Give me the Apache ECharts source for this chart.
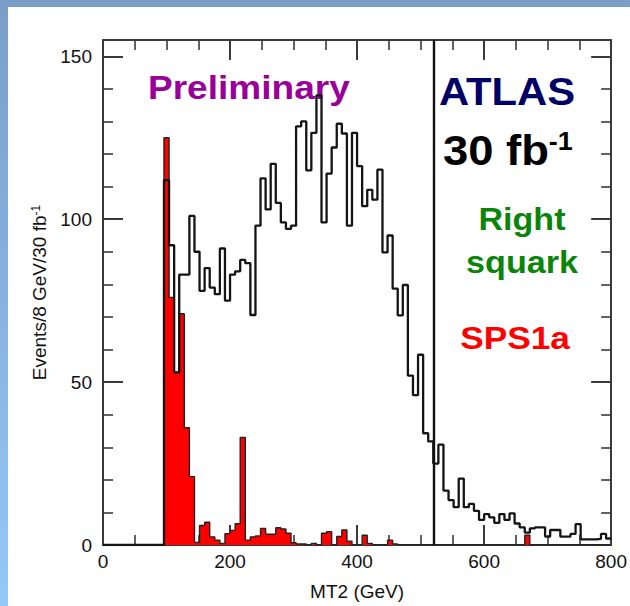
<!DOCTYPE html>
<html>
<head>
<meta charset="utf-8">
<script src="https://cdn.jsdelivr.net/npm/echarts@6/dist/echarts.min.js"></script>
<style>
html, body { margin: 0; padding: 0; width: 630px; height: 606px; overflow: hidden; }
body { position: relative; background: linear-gradient(to bottom, #7a9ec8 0%, #87b3df 50%, #95c8f6 100%); }
#panel { position: absolute; left: 8px; top: 7px; right: 0; bottom: 0; background: #fff; }
#chart { position: absolute; left: 0; top: 0; width: 630px; height: 606px; }
</style>
</head>
<body>
<div id="panel"></div>
<div id="chart"></div>
<script>
// MT2 histograms, 8 GeV bins from 0 to 800
var binWidth = 8;
var mt2Min = 0;
var mt2Max = 800;
var yMax = 155;
var cutValue = 520;
var xTickStep = 200;
var yLabelTicks = [0, 50, 100, 150];
var yMinorTicks = [10, 20, 30, 40, 60, 70, 80, 90, 110, 120, 130, 140];

// black outline : right squark
var squarkCounts = [
	0, 0, 0, 0, 0, 0, 0, 0, 0, 0,
	0, 0, 112, 92, 53, 83, 83, 101, 90, 78,
	85, 79, 77, 91, 75, 83, 84, 87.5, 86.5, 70.6,
	98, 112.5, 103, 117, 105, 99, 97, 98, 128.5, 130,
	115, 126.5, 138, 99, 114, 122, 129.3, 126.3, 98, 126.5,
	116.3, 104, 109, 106, 115.2, 89.8, 95, 78.7, 70.5, 79.8,
	52, 46, 58.4, 34.3, 31.8, 25, 30.8, 16.7, 13.8, 11.6,
	20.4, 11.6, 12.6, 10.5, 7.7, 9.5, 8.5, 6.8, 9.5, 7.7,
	9.7, 6.6, 5.4, 3.8, 5.1, 5.4, 5.4, 2.6, 4.6, 4.6,
	2.6, 2.6, 3.4, 6.4, 1.7, 1.7, 1.7, 1.9, 3.4, 2
];
// red filled : SPS1a
var sps1aCounts = [
	0, 0, 0, 0, 0, 0, 0, 0, 0, 0,
	0, 0, 125, 76, 53, 71, 36, 21, 0.8, 6,
	7, 2.5, 1.5, 0.5, 3.5, 4.5, 6.5, 33, 1.5, 2.5,
	2.8, 5.1, 3.3, 3.3, 5.3, 4.9, 3.6, 0.7, 0.3, 0.3,
	0, 0.5, 0, 3.6, 4.1, 0, 2.6, 4.6, 1.2, 0,
	0, 3, 0.5, 0, 0, 0, 1.5, 0.3, 0, 0,
	0, 0, 0, 0, 0, 0, 0, 0, 0, 0,
	0, 0, 0, 0, 0, 0, 0, 0, 0, 0,
	0, 0, 0, 3, 0, 0, 0, 0, 0, 0,
	0, 0, 0, 0, 0, 0, 0, 0, 0, 0
];

var frameColor = '#3a3a3a';
var fontName = '"Liberation Sans", Arial, sans-serif';
var axisFont = 19;

drawChart();

function toSteps(counts) {
	var pts = [];
	for (var i = 0; i < counts.length; i++) {
		pts.push([mt2Min + i * binWidth, counts[i]]);
	}
	pts.push([mt2Min + counts.length * binWidth, counts[counts.length - 1]]);
	return pts;
}

function xAxisDef(pos) {
	return {
		type : 'value',
		position : pos,
		min : mt2Min,
		max : mt2Max,
		interval : xTickStep,
		axisLine : { show : true, onZero : false, lineStyle : { color : frameColor, width : 2 } },
		axisTick : { show : true, inside : true, length : 20, lineStyle : { color : frameColor, width : 2 } },
		minorTick : { show : true, splitNumber : 4, length : 10, lineStyle : { color : frameColor, width : 1.6 } },
		splitLine : { show : false },
		minorSplitLine : { show : false },
		axisLabel : {
			show : pos == 'bottom',
			fontSize : axisFont,
			fontFamily : fontName,
			color : '#111',
			margin : 7
		}
	};
}

function yAxisDef(pos, major) {
	var ticks = major ? yLabelTicks : yMinorTicks;
	return {
		type : 'value',
		position : pos,
		min : 0,
		max : yMax,
		axisLine : { show : major, onZero : false, lineStyle : { color : frameColor, width : 2 } },
		axisTick : {
			show : true,
			inside : true,
			length : major ? 20 : 10,
			customValues : ticks,
			lineStyle : { color : frameColor, width : major ? 2 : 1.6 }
		},
		splitLine : { show : false },
		axisLabel : {
			show : major && pos == 'left',
			customValues : yLabelTicks,
			fontSize : axisFont,
			fontFamily : fontName,
			color : '#111',
			margin : 11
		}
	};
}

function drawChart() {
	var xAxes = [ xAxisDef('bottom'), xAxisDef('top') ];
	xAxes[0].name = 'MT2 (GeV)';
	xAxes[0].nameLocation = 'middle';
	xAxes[0].nameGap = 37;
	xAxes[0].nameTextStyle = { fontSize : axisFont, fontFamily : fontName, color : '#111' };

	var yAxes = [ yAxisDef('left', true), yAxisDef('left', false), yAxisDef('right', true), yAxisDef('right', false) ];
	yAxes[0].name = 'Events/8 GeV/30 fb{sup|-1}';
	yAxes[0].nameLocation = 'middle';
	yAxes[0].nameGap = 52;
	yAxes[0].nameTextStyle = {
		fontSize : axisFont,
		fontFamily : fontName,
		color : '#111',
		rich : { sup : { fontSize : 12, fontFamily : fontName, color : '#111', verticalAlign : 'top' } }
	};

	var option = {
		animation : false,
		backgroundColor : 'transparent',
		grid : { left : 103, right : 18, top : 40, bottom : 61, containLabel : false },
		xAxis : xAxes,
		yAxis : yAxes,
		series : [ {
			name : 'SPS1a',
			type : 'line',
			step : 'end',
			showSymbol : false,
			z : 2,
			data : toSteps(sps1aCounts),
			lineStyle : { color : '#222', width : 1.4 },
			areaStyle : { color : '#ff0000', opacity : 1 }
		}, {
			name : 'Right squark',
			type : 'line',
			step : 'end',
			showSymbol : false,
			z : 3,
			data : toSteps(squarkCounts),
			lineStyle : { color : '#141414', width : 2.3 },
			markLine : {
				silent : true,
				symbol : 'none',
				label : { show : false },
				lineStyle : { color : '#111', width : 2.4, type : 'solid' },
				data : [ { xAxis : cutValue } ]
			}
		} ],
		graphic : [
			textItem('Preliminary', 148, 88, 'left', '#990099', 34, 1.09),
			textItem('ATLAS', 507, 92, 'center', '#000066', 38, 1.1),
			{
				type : 'text', x : 443, y : 150, scaleX : 1.08,
				style : {
					text : '{b|30 fb}{s|-1}',
					align : 'left', textAlign : 'left',
					verticalAlign : 'middle', textVerticalAlign : 'middle',
					rich : {
						b : { fontSize : 42, fontWeight : 'bold', fontFamily : fontName, fill : '#000', color : '#000' },
						s : { fontSize : 25, fontWeight : 'bold', fontFamily : fontName, fill : '#000', color : '#000', verticalAlign : 'top' }
					}
				}
			},
			textItem('Right', 522, 220, 'center', '#0a850a', 31, 1.1),
			textItem('squark', 522, 263, 'center', '#0a850a', 31, 1.1),
			textItem('SPS1a', 515, 338, 'center', '#ff0000', 32, 1.1)
		]
	};

	var myChart = echarts.init(document.getElementById('chart'), null, { renderer : 'svg' });
	myChart.setOption(option, true);
}

function textItem(txt, x, y, align, color, size, sx) {
	return {
		type : 'text',
		x : x,
		y : y,
		scaleX : sx,
		style : {
			text : txt,
			fill : color,
			fontSize : size,
			fontWeight : 'bold',
			fontFamily : fontName,
			align : align, textAlign : align,
			verticalAlign : 'middle', textVerticalAlign : 'middle'
		}
	};
}
</script>
</body>
</html>
